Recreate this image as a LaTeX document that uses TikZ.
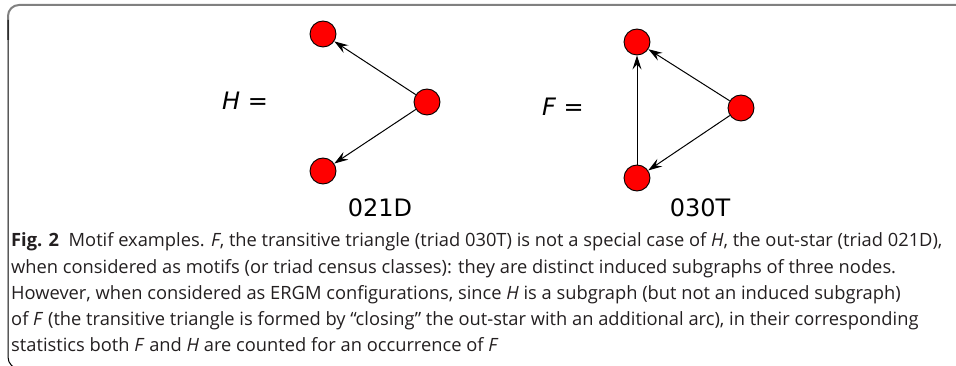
\documentclass[tikz,border=0pt]{standalone}
\usepackage{fontspec}
\setmainfont{Open Sans}
\newfontfamily\dejavu{DejaVu Sans}
\usetikzlibrary{arrows.meta}
\definecolor{nodered}{RGB}{255,0,0}
\definecolor{framegray}{RGB}{128,128,128}
\definecolor{captxt}{RGB}{35,31,32}
\tikzset{
  vert/.style={circle,draw=black,line width=0.9pt,fill=nodered,minimum size=26pt,inner sep=0pt},
  arcedge/.style={draw=black,line width=1pt,-{Stealth[length=14pt,width=9pt,inset=5pt]}},
  lbl/.style={font=\dejavu\fontsize{24}{28}\selectfont,inner sep=0pt},
  captext/.style={anchor=base west,inner sep=0pt,text=captxt,font=\fontsize{18.3}{22}\selectfont}
}
\begin{document}
\begin{tikzpicture}[x=1pt,y=-1pt]
\useasboundingbox (0,0) rectangle (956,366);
% frame
\draw[framegray,line width=2pt,rounded corners=11pt] (960,5) -- (8,5) -- (8,40);
\draw[black,line width=1pt,rounded corners=12pt] (8,20) -- (8,369) -- (40,369);
% H motif
\node[vert] (h1) at (323,34) {};
\node[vert] (h2) at (427,102) {};
\node[vert] (h3) at (323,171) {};
\draw[arcedge] (h2) -- (h1);
\draw[arcedge] (h2) -- (h3);
\node[lbl,anchor=base west] (hl) at (222,110) {\itshape H\ =};
\node[lbl,anchor=base] (hn) at (380,217) {021D};
% F motif
\node[vert] (f1) at (637,42) {};
\node[vert] (f2) at (741,108) {};
\node[vert] (f3) at (637,178) {};
\draw[arcedge] (f2) -- (f1);
\draw[arcedge] (f2) -- (f3);
\draw[arcedge] (f3) -- (f1);
\node[lbl,anchor=base west] (fl) at (542,116) {\itshape F\ =};
\node[lbl,anchor=base] (fn) at (700,217) {030T};
% caption
\node[captext] (c1) at (11,247) {\textbf{Fig. 2}\ \ Motif examples. \textit{F}, the transitive triangle (triad 030T) is not a special case of \textit{H}, the out-star (triad 021D),};
\node[captext] (c2) at (11,273) {when considered as motifs (or triad census classes): they are distinct induced subgraphs of three nodes.};
\node[captext] (c3) at (11,299) {However, when considered as ERGM configurations, since \textit{H} is a subgraph (but not an induced subgraph)};
\node[captext] (c4) at (11,325) {of \textit{F} (the transitive triangle is formed by “closing” the out-star with an additional arc), in their corresponding};
\node[captext] (c5) at (11,351) {statistics both \textit{F} and \textit{H} are counted for an occurrence of \textit{F}};
\end{tikzpicture}
\end{document}
